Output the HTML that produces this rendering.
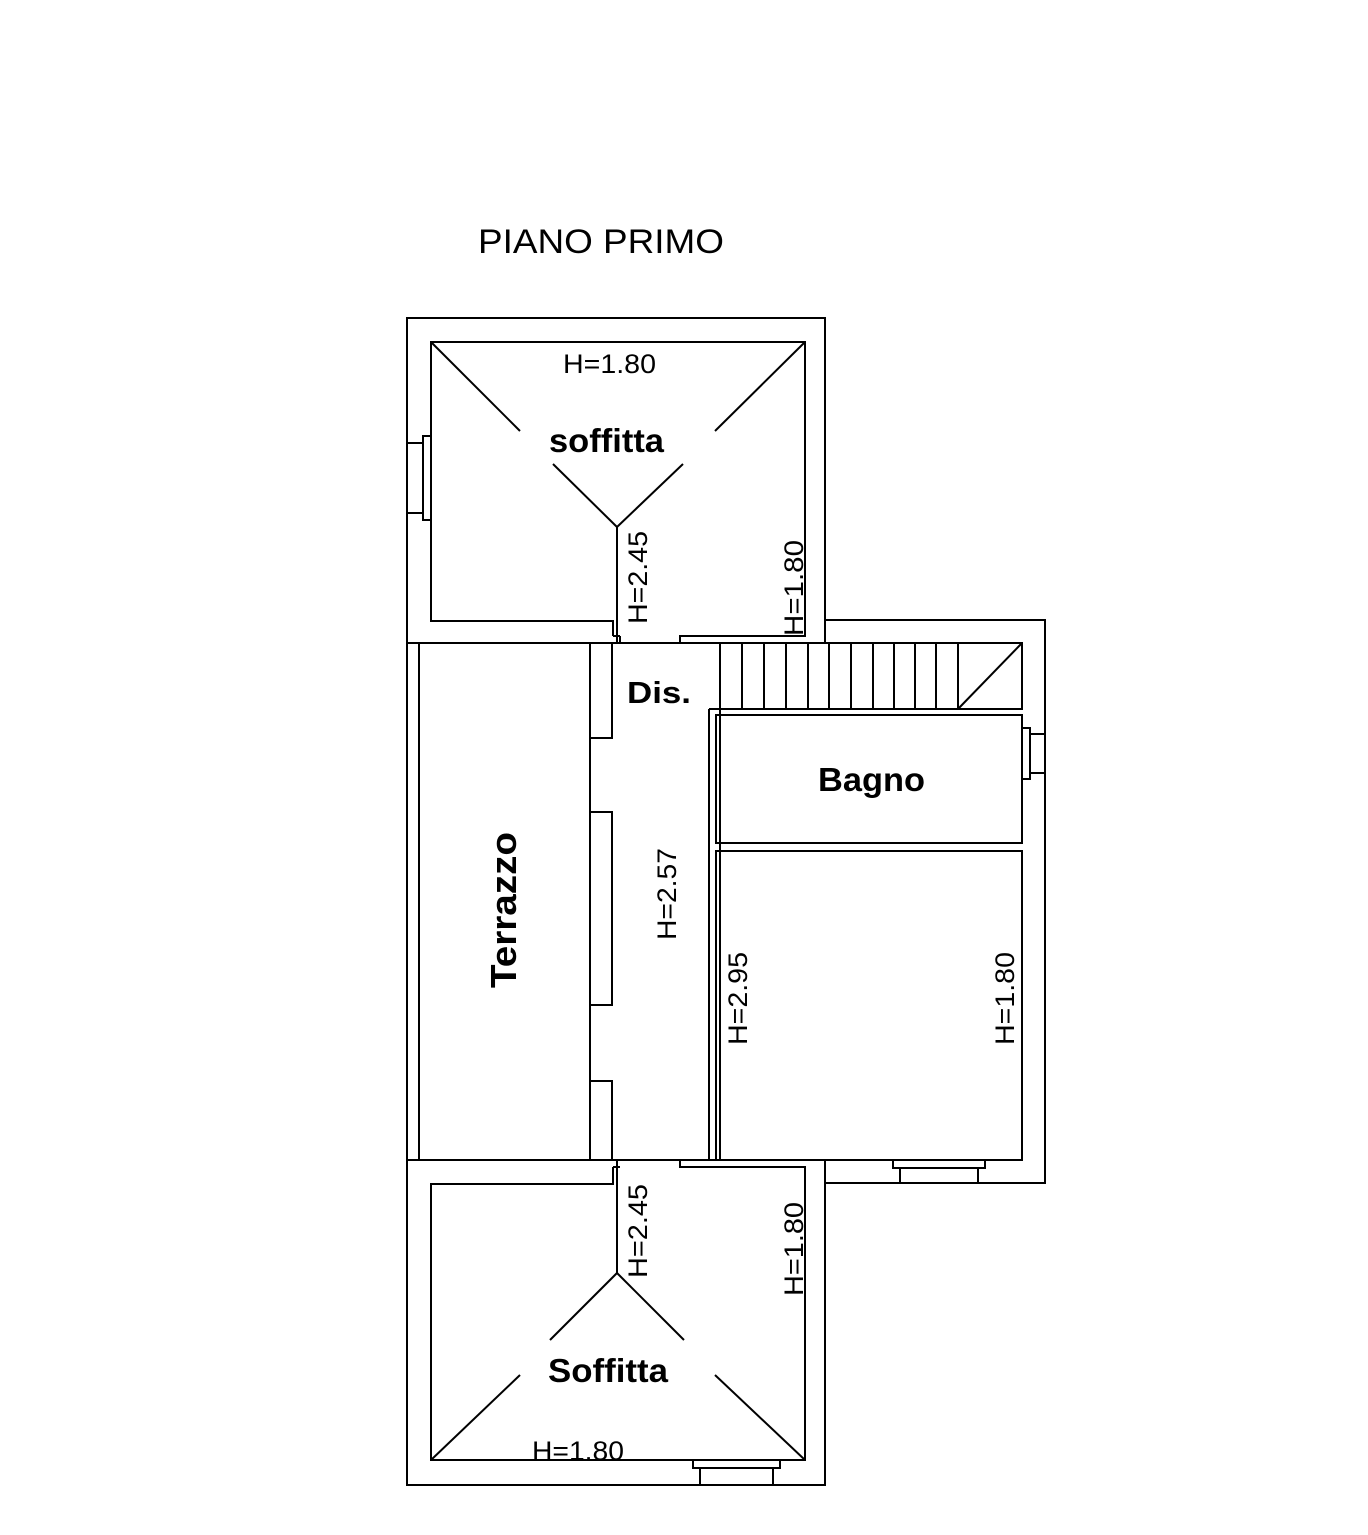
<!DOCTYPE html>
<html><head><style>body{margin:0;background:#fff}svg{display:block}</style></head><body>
<svg width="1368" height="1535" viewBox="0 0 1368 1535" xmlns="http://www.w3.org/2000/svg" font-family="Liberation Sans, sans-serif">
<g fill="none" stroke="#000" stroke-width="2">
<polyline points="407,643 407,318 825,318 825,643"/>
<polyline points="613,636 613,621 431,621 431,342 805,342 805,636 680,636 680,643"/>
<line x1="620" y1="636" x2="620" y2="643"/>
<line x1="613" y1="636" x2="620" y2="636"/>
<line x1="617" y1="527" x2="617" y2="643"/>
<line x1="431" y1="342" x2="520" y2="431"/>
<line x1="805" y1="342" x2="715" y2="431"/>
<line x1="553" y1="464" x2="617" y2="527"/>
<line x1="683" y1="464" x2="617" y2="527"/>
<rect x="423" y="436" width="8" height="84"/>
<line x1="407" y1="443" x2="423" y2="443"/><line x1="407" y1="513" x2="423" y2="513"/>
<polyline points="825,620 1045,620 1045,1183 825,1183"/>
<line x1="407" y1="643" x2="1022" y2="643"/>
<line x1="407" y1="643" x2="407" y2="1160"/>
<line x1="419" y1="643" x2="419" y2="1160"/>
<rect x="720" y="643" width="302" height="66"/>
<g>
<line x1="742" y1="643" x2="742" y2="709"/><line x1="764" y1="643" x2="764" y2="709"/>
<line x1="786" y1="643" x2="786" y2="709"/><line x1="808" y1="643" x2="808" y2="709"/>
<line x1="829" y1="643" x2="829" y2="709"/><line x1="851" y1="643" x2="851" y2="709"/>
<line x1="873" y1="643" x2="873" y2="709"/><line x1="894" y1="643" x2="894" y2="709"/>
<line x1="915" y1="643" x2="915" y2="709"/><line x1="936" y1="643" x2="936" y2="709"/>
<line x1="958" y1="643" x2="958" y2="709"/>
</g>
<line x1="958" y1="709" x2="1022" y2="643"/>
<line x1="590" y1="643" x2="590" y2="1160"/>
<rect x="590" y="643" width="22" height="95"/>
<rect x="590" y="812" width="22" height="193"/>
<rect x="590" y="1081" width="22" height="79"/>
<line x1="709" y1="709" x2="709" y2="1160"/>
<line x1="709" y1="709" x2="720" y2="709"/>
<line x1="720" y1="709" x2="720" y2="1160"/>
<rect x="716" y="715" width="306" height="128"/>
<rect x="716" y="851" width="306" height="309"/>
<rect x="1022" y="728" width="8" height="51"/>
<line x1="1030" y1="734" x2="1045" y2="734"/><line x1="1030" y1="773" x2="1045" y2="773"/>
<line x1="407" y1="1160" x2="1022" y2="1160"/>
<rect x="893" y="1160" width="92" height="8"/>
<line x1="900" y1="1168" x2="900" y2="1183"/><line x1="978" y1="1168" x2="978" y2="1183"/>
<polyline points="407,1160 407,1485 825,1485 825,1160"/>
<polyline points="613,1167 613,1184 431,1184 431,1460 805,1460 805,1167 680,1167 680,1160"/>
<line x1="613" y1="1167" x2="620" y2="1167"/>
<line x1="617" y1="1160" x2="617" y2="1273"/>
<line x1="617" y1="1273" x2="550" y2="1340"/>
<line x1="617" y1="1273" x2="684" y2="1340"/>
<line x1="431" y1="1460" x2="520" y2="1375"/>
<line x1="805" y1="1460" x2="715" y2="1375"/>
<rect x="693" y="1460" width="87" height="8"/>
<line x1="700" y1="1468" x2="700" y2="1485"/><line x1="773" y1="1468" x2="773" y2="1485"/>
</g>
<g fill="#000">
<text x="478" y="253" font-size="34" textLength="246" lengthAdjust="spacingAndGlyphs">PIANO PRIMO</text>
<text x="563" y="373" font-size="27" textLength="93" lengthAdjust="spacingAndGlyphs">H=1.80</text>
<text x="549" y="452" font-size="33" font-weight="bold" textLength="115" lengthAdjust="spacingAndGlyphs">soffitta</text>
<text x="627" y="703" font-size="31" font-weight="bold" textLength="64" lengthAdjust="spacingAndGlyphs">Dis.</text>
<text x="818" y="791" font-size="33" font-weight="bold" textLength="107" lengthAdjust="spacingAndGlyphs">Bagno</text>
<text x="548" y="1382" font-size="33" font-weight="bold" textLength="120" lengthAdjust="spacingAndGlyphs">Soffitta</text>
<text x="532" y="1460" font-size="27" textLength="92" lengthAdjust="spacingAndGlyphs">H=1.80</text>
<text transform="translate(516,988) rotate(-90)" font-size="36" font-weight="bold" textLength="156" lengthAdjust="spacingAndGlyphs">Terrazzo</text>
<text transform="translate(676,940) rotate(-90)" font-size="27" textLength="92" lengthAdjust="spacingAndGlyphs">H=2.57</text>
<text transform="translate(647,624) rotate(-90)" font-size="27" textLength="93" lengthAdjust="spacingAndGlyphs">H=2.45</text>
<text transform="translate(803,636) rotate(-90)" font-size="27" textLength="96" lengthAdjust="spacingAndGlyphs">H=1.80</text>
<text transform="translate(747,1045) rotate(-90)" font-size="27" textLength="93" lengthAdjust="spacingAndGlyphs">H=2.95</text>
<text transform="translate(1014,1045) rotate(-90)" font-size="27" textLength="93" lengthAdjust="spacingAndGlyphs">H=1.80</text>
<text transform="translate(647,1278) rotate(-90)" font-size="27" textLength="94" lengthAdjust="spacingAndGlyphs">H=2.45</text>
<text transform="translate(803,1296) rotate(-90)" font-size="27" textLength="94" lengthAdjust="spacingAndGlyphs">H=1.80</text>
</g>
</svg>
</body></html>
